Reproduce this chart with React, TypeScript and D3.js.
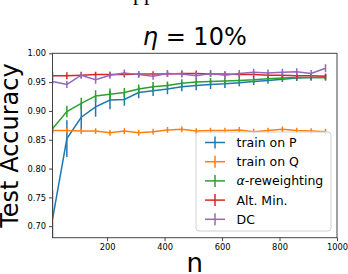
import { useEffect, useRef } from "react"
import * as d3 from "d3"

const nValues = [10, 60, 110, 160, 210, 260, 310, 360, 410, 460, 510, 560, 610, 660, 710, 760, 810, 860, 910, 960]

const trainP = [0.712, 0.852, 0.889, 0.907, 0.919, 0.92, 0.932, 0.935, 0.938, 0.942, 0.944, 0.946, 0.947, 0.949, 0.951, 0.953, 0.955, 0.957, 0.958, 0.958]
const trainPErr = [0.05, 0.032, 0.022, 0.017, 0.016, 0.011, 0.01, 0.009, 0.009, 0.008, 0.008, 0.008, 0.007, 0.006, 0.006, 0.006, 0.005, 0.005, 0.005, 0.005]

const trainQ = [0.866, 0.866, 0.865, 0.865, 0.862, 0.865, 0.862, 0.864, 0.867, 0.868, 0.865, 0.866, 0.866, 0.867, 0.864, 0.866, 0.868, 0.866, 0.865, 0.864]
const trainQErr = [0.005, 0.005, 0.005, 0.005, 0.005, 0.005, 0.005, 0.005, 0.005, 0.005, 0.005, 0.005, 0.005, 0.005, 0.005, 0.005, 0.005, 0.005, 0.005, 0.005]

const alphaRw = [0.869, 0.899, 0.913, 0.926, 0.929, 0.932, 0.938, 0.942, 0.944, 0.948, 0.95, 0.951, 0.952, 0.953, 0.954, 0.956, 0.957, 0.958, 0.958, 0.958]
const alphaRwErr = [0.008, 0.01, 0.01, 0.01, 0.01, 0.008, 0.008, 0.008, 0.007, 0.007, 0.007, 0.006, 0.006, 0.006, 0.006, 0.005, 0.005, 0.005, 0.005, 0.005]

const altMin = [0.961, 0.961, 0.962, 0.963, 0.963, 0.963, 0.964, 0.964, 0.964, 0.965, 0.965, 0.964, 0.964, 0.963, 0.963, 0.962, 0.962, 0.961, 0.961, 0.96]
const altMinErr = [0.006, 0.006, 0.005, 0.005, 0.005, 0.005, 0.005, 0.005, 0.005, 0.005, 0.005, 0.005, 0.005, 0.005, 0.005, 0.005, 0.005, 0.005, 0.005, 0.005]

const dcValues = [0.951, 0.946, 0.962, 0.954, 0.962, 0.966, 0.963, 0.96, 0.965, 0.964, 0.961, 0.965, 0.962, 0.965, 0.967, 0.966, 0.967, 0.968, 0.965, 0.974]
const dcErr = [0.006, 0.006, 0.006, 0.007, 0.006, 0.006, 0.006, 0.006, 0.006, 0.006, 0.006, 0.006, 0.006, 0.006, 0.006, 0.006, 0.006, 0.006, 0.006, 0.007]

const seriesNames = ["train on P", "train on Q", "α-reweighting", "Alt. Min.", "DC"]
const seriesColors = ["#1f77b4", "#ff7f0e", "#2ca02c", "#d62728", "#9467bd"]

const yTicks = [0.7, 0.75, 0.8, 0.85, 0.9, 0.95, 1.0]
const xTicks = [200, 400, 600, 800, 1000]

const font = "DejaVu Sans, sans-serif"

export default function App() {
  const ref = useRef<SVGSVGElement>(null)

  useEffect(() => {
    if (!ref.current) return
    const svg = d3.select(ref.current)
    svg.selectAll("*").remove()

    const left = 52.5
    const right = 337
    const top = 53.3
    const bottom = 237.7

    const x = d3.scaleLinear().domain([10, 1000]).range([left, right])
    const y = d3.scaleLinear().domain([0.68, 1.0]).range([bottom, top])

    const series = [
      { v: trainP, e: trainPErr },
      { v: trainQ, e: trainQErr },
      { v: alphaRw, e: alphaRwErr },
      { v: altMin, e: altMinErr },
      { v: dcValues, e: dcErr },
    ]

    // cropped caption text above the figure
    svg
      .append("text")
      .attr("x", 133)
      .attr("y", -0.5)
      .attr("font-family", "Liberation Serif, serif")
      .attr("font-size", 22)
      .text("pp")

    svg
      .append("defs")
      .append("clipPath")
      .attr("id", "plotClip")
      .append("rect")
      .attr("x", left)
      .attr("y", top)
      .attr("width", right - left)
      .attr("height", bottom - top)

    const plot = svg.append("g").attr("clip-path", "url(#plotClip)")
    const line = d3
      .line<number>()
      .x((_, i) => x(nValues[i]))
      .y((d) => y(d))

    series.forEach((s, k) => {
      const g = plot.append("g")
      g.append("path")
        .attr("d", line(s.v))
        .attr("fill", "none")
        .attr("stroke", seriesColors[k])
        .attr("stroke-width", 1.5)
      g.selectAll("line")
        .data(s.v)
        .enter()
        .append("line")
        .attr("x1", (_, i) => x(nValues[i]))
        .attr("x2", (_, i) => x(nValues[i]))
        .attr("y1", (d, i) => y(d - s.e[i]))
        .attr("y2", (d, i) => y(d + s.e[i]))
        .attr("stroke", seriesColors[k])
        .attr("stroke-width", 1.5)
    })

    // axes frame
    svg
      .append("rect")
      .attr("x", left)
      .attr("y", top)
      .attr("width", right - left)
      .attr("height", bottom - top)
      .attr("fill", "none")
      .attr("stroke", "#444")
      .attr("stroke-width", 1)

    const yAxis = svg.append("g").attr("transform", `translate(${left},0)`).call(
      d3.axisLeft(y).tickValues(yTicks).tickFormat(d3.format(".2f")).tickSize(3.5).tickPadding(3)
    )
    const xAxis = svg.append("g").attr("transform", `translate(0,${bottom})`).call(
      d3.axisBottom(x).tickValues(xTicks).tickFormat(d3.format("d")).tickSize(3.5).tickPadding(3)
    )
    ;[xAxis, yAxis].forEach((a) => {
      a.select(".domain").remove()
      a.selectAll("line").attr("stroke", "#444")
      a.selectAll("text").attr("font-family", font).attr("font-size", 8.3).attr("fill", "#000")
    })

    // title
    const title = svg
      .append("text")
      .attr("x", (left + right) / 2)
      .attr("y", 45)
      .attr("text-anchor", "middle")
      .attr("font-family", font)
      .attr("font-size", 24)
    title.append("tspan").attr("font-style", "italic").text("η")
    title.append("tspan").text(" = 10%")

    svg
      .append("text")
      .attr("transform", `translate(18,${(top + bottom) / 2}) rotate(-90)`)
      .attr("text-anchor", "middle")
      .attr("font-family", font)
      .attr("font-size", 24)
      .text("Test Accuracy")

    svg
      .append("text")
      .attr("x", (left + right) / 2)
      .attr("y", 272)
      .attr("text-anchor", "middle")
      .attr("font-family", font)
      .attr("font-size", 26)
      .text("n")

    // legend
    const legend = svg.append("g")
    legend
      .append("rect")
      .attr("x", 196)
      .attr("y", 132)
      .attr("width", 135)
      .attr("height", 99)
      .attr("rx", 3)
      .attr("fill", "white")
      .attr("fill-opacity", 0.8)
      .attr("stroke", "#d0d0d0")
      .attr("stroke-width", 1)

    seriesNames.forEach((name, k) => {
      const cy = 142.5 + k * 19.2
      legend
        .append("line")
        .attr("x1", 205)
        .attr("x2", 225)
        .attr("y1", cy)
        .attr("y2", cy)
        .attr("stroke", seriesColors[k])
        .attr("stroke-width", 1.5)
      legend
        .append("line")
        .attr("x1", 215)
        .attr("x2", 215)
        .attr("y1", cy - 6)
        .attr("y2", cy + 6)
        .attr("stroke", seriesColors[k])
        .attr("stroke-width", 1.5)
      const t = legend
        .append("text")
        .attr("x", 236.5)
        .attr("y", cy)
        .attr("dy", "0.36em")
        .attr("font-family", font)
        .attr("font-size", 12.5)
      if (name.startsWith("α")) {
        t.append("tspan").attr("font-style", "italic").text("α")
        t.append("tspan").text(name.slice(1))
      } else {
        t.text(name)
      }
    })
  }, [])

  return (
    <svg
      ref={ref}
      width={348}
      height={274}
      style={{ position: "absolute", left: 0, top: 0, background: "white" }}
    />
  )
}
